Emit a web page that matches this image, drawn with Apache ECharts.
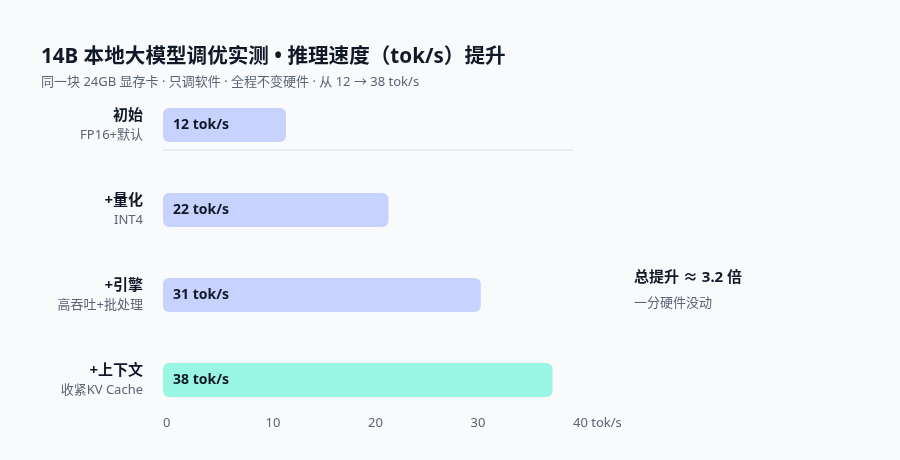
<!DOCTYPE html>
<html>
<head>
<meta charset="utf-8">
<script src="https://cdn.jsdelivr.net/npm/echarts@6/dist/echarts.min.js"></script>
<style>html,body{margin:0;padding:0;background:#f8fafc;}#c{width:900px;height:460px;}</style>
</head>
<body>
<div id="c"></div>
<script>
const categories = ['初始', '+量化', '+引擎', '+上下文'];
const subLabels = ['FP16+默认', 'INT4', '高吞吐+批处理', '收紧KV Cache'];
const speeds = [12, 22, 31, 38];
const barColors = ['#c7d2fe', '#c7d2fe', '#c7d2fe', '#99f6e4'];
const xTicks = [0, 10, 20, 30, 40];
const unit = 'tok/s';
const titleText = '14B 本地大模型调优实测 • 推理速度（tok/s）提升';
const subText = '同一块 24GB 显存卡 · 只调软件 · 全程不变硬件 · 从 12 → 38 tok/s';
const noteMain = '总提升 ≈ 3.2 倍';
const noteSub = '一分硬件没动';

const FONT = '"Noto Sans", "Noto Sans CJK SC", sans-serif';
const chart = echarts.init(document.getElementById('c'), null, {renderer: 'canvas'});
const option = {
  backgroundColor: '#f8fafc',
  textStyle: {fontFamily: FONT},
  title: {
    text: titleText,
    subtext: subText,
    left: 36,
    top: 42,
    itemGap: 8,
    textStyle: {fontSize: 20.6, fontWeight: 'bold', color: '#111827', fontFamily: FONT},
    subtextStyle: {fontSize: 13, color: '#5b6474', fontFamily: FONT}
  },
  grid: {left: 163, right: 327, top: 82.5, height: 340, containLabel: false},
  xAxis: {
    type: 'value',
    min: xTicks[0],
    max: xTicks[xTicks.length - 1],
    interval: 10,
    axisLine: {show: false},
    axisTick: {show: false},
    splitLine: {show: false},
    axisLabel: {
      margin: -6,
      align: 'left',
      fontSize: 13,
      color: '#5b6474',
      fontFamily: FONT,
      formatter: v => v === xTicks[xTicks.length - 1] ? v + ' ' + unit : String(v)
    }
  },
  yAxis: {
    type: 'category',
    inverse: true,
    data: categories,
    axisLine: {show: false},
    axisTick: {show: false},
    axisLabel: {
      margin: 20,
      align: 'right',
      formatter: (val, idx) => '{a|' + val + '}\n{b|' + subLabels[idx] + '}',
      rich: {
        a: {fontSize: 15, fontWeight: 'bold', color: '#111827', lineHeight: 20, align: 'right', fontFamily: FONT},
        b: {fontSize: 13, color: '#5b6474', lineHeight: 18, align: 'right', fontFamily: FONT}
      }
    }
  },
  series: [{
    type: 'bar',
    barWidth: 34,
    data: speeds.map((v, i) => ({value: v, itemStyle: {color: barColors[i]}})),
    itemStyle: {borderRadius: 6},
    label: {
      show: true,
      position: 'insideLeft',
      distance: 10,
      formatter: p => p.value + ' ' + unit,
      fontSize: 14,
      fontWeight: 'bold',
      color: '#111827',
      fontFamily: FONT
    }
  }]
};
chart.setOption(option);

// decorative divider under baseline + annotation, placed through the chart's scales
const p0 = chart.convertToPixel({gridIndex: 0}, [xTicks[0], 0]);
const p1 = chart.convertToPixel({gridIndex: 0}, [xTicks[xTicks.length - 1], 0]);
const pMid = chart.convertToPixel({gridIndex: 0}, [xTicks[xTicks.length - 1], 2]);
chart.setOption({
  graphic: [
    {type: 'line', shape: {x1: p0[0], y1: p0[1] + 25, x2: p1[0], y2: p1[1] + 25},
     style: {stroke: '#e2e5ec', lineWidth: 1.5}, silent: true},
    {type: 'text', left: p1[0] + 61, top: pMid[1] - 25,
     style: {text: noteMain, fontSize: 15, fontWeight: 'bold', fill: '#111827', fontFamily: FONT}},
    {type: 'text', left: p1[0] + 61, top: pMid[1] + 2,
     style: {text: noteSub, fontSize: 13, fill: '#5b6474', fontFamily: FONT}}
  ]
});
</script>
</body>
</html>
